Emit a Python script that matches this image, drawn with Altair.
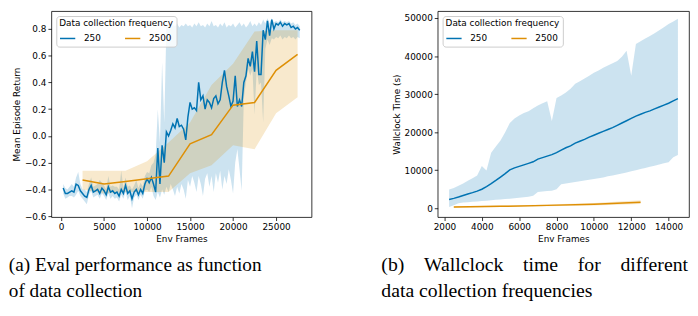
import altair as alt
import pandas as pd

BLUE = "#0173B2"
ORANGE = "#DE8F05"
FREQS = ["250", "2500"]

# ---------------- (a) eval performance ----------------
l250_x = list(range(250, 27751, 250))
l250_mean = [
    -0.39, -0.43, -0.43, -0.42, -0.41, -0.42, -0.36, -0.37, -0.41, -0.43,
    -0.45, -0.46, -0.40, -0.37, -0.42, -0.41, -0.40, -0.43, -0.39, -0.41,
    -0.44, -0.38, -0.42, -0.41, -0.43, -0.42, -0.45, -0.40, -0.43, -0.37,
    -0.43, -0.41, -0.47, -0.42, -0.40, -0.44, -0.40, -0.43, -0.36,
    -0.32, -0.35, -0.31, -0.36, -0.42, -0.09, -0.36, -0.07, -0.20, 0.03,
    0.00, 0.04, 0.09, 0.06, 0.13, 0.07, 0.08, 0.05, -0.03, 0.14,
    0.25, 0.20, 0.21, 0.19, 0.40, 0.27, 0.30, 0.20, 0.27, 0.25,
    0.21, 0.28, 0.30, 0.24, 0.27, 0.40,
    0.49, 0.37, 0.30, 0.22, 0.26, 0.45, 0.22, 0.27, 0.22, 0.40,
    0.45, 0.58, 0.52, 0.63, 0.48, 0.71, 0.46, 0.46, 0.79, 0.72,
    0.86, 0.75, 0.87, 0.80, 0.84, 0.83, 0.85, 0.82, 0.84, 0.83,
    0.84, 0.81, 0.82, 0.80, 0.81, 0.79,
]
l250_hi = [
    -0.36, -0.39, -0.40, -0.38, -0.36, -0.38, -0.31, -0.27, -0.36, -0.40,
    -0.40, -0.42, -0.36, -0.31, -0.38, -0.37, -0.36, -0.33, -0.35, -0.37,
    -0.40, -0.30, -0.38, -0.37, -0.38, -0.38, -0.40, -0.26, -0.39, -0.31,
    -0.38, -0.37, -0.40, -0.37, -0.33, -0.39, -0.35, -0.38, -0.30,
    -0.27, -0.28, -0.22, -0.20, -0.14, 0.20, -0.05, 0.55, 0.10, 0.82,
    0.84, 0.81, 0.83, 0.82, 0.84, 0.81, 0.83, 0.82, 0.84, 0.82,
    0.83, 0.81, 0.84, 0.82, 0.85, 0.82, 0.83, 0.81, 0.84, 0.82,
    0.86, 0.82, 0.83, 0.81, 0.84, 0.82,
    0.85, 0.81, 0.83, 0.82, 0.84, 0.81, 0.83, 0.85, 0.82, 0.84,
    0.81, 0.83, 0.86, 0.82, 0.84, 0.82, 0.85, 0.83, 0.87, 0.84,
    0.88, 0.84, 0.88, 0.85, 0.86, 0.85, 0.87, 0.85, 0.86, 0.85,
    0.86, 0.84, 0.85, 0.83, 0.84, 0.82,
]
l250_lo = [
    -0.43, -0.47, -0.46, -0.45, -0.45, -0.46, -0.44, -0.41, -0.45, -0.47,
    -0.49, -0.51, -0.44, -0.41, -0.46, -0.45, -0.44, -0.47, -0.43, -0.45,
    -0.48, -0.43, -0.47, -0.45, -0.47, -0.46, -0.49, -0.44, -0.47, -0.42,
    -0.48, -0.45, -0.54, -0.46, -0.44, -0.48, -0.44, -0.47, -0.41,
    -0.40, -0.42, -0.38, -0.45, -0.48, -0.42, -0.46, -0.40, -0.44, -0.38,
    -0.42, -0.36, -0.40, -0.45, -0.38, -0.43, -0.36, -0.40, -0.47, -0.33,
    -0.38, -0.30, -0.35, -0.42, -0.30, -0.36, -0.45, -0.32, -0.28, -0.38,
    -0.30, -0.42, -0.28, -0.35, -0.26, -0.40,
    -0.30, -0.36, -0.25, -0.33, -0.43, -0.20, -0.10, -0.25, -0.41, 0.28,
    0.40, 0.50, 0.45, 0.50, 0.16, 0.50, 0.38, 0.40, 0.10, 0.65,
    0.72, 0.68, 0.73, 0.72, 0.74, 0.73, 0.75, 0.72, 0.74, 0.73,
    0.75, 0.73, 0.74, 0.72, 0.74, 0.73,
]
l2500_x = [2500, 5000, 7500, 10000, 12500, 15000, 17500, 20000, 22500, 25000, 27500]
l2500_mean = [-0.33, -0.36, -0.34, -0.32, -0.30, -0.06, 0.01, 0.23, 0.25, 0.49, 0.61]
l2500_lo = [-0.40, -0.43, -0.42, -0.42, -0.42, -0.28, -0.22, -0.07, -0.10, 0.17, 0.29]
l2500_hi = [-0.26, -0.26, -0.26, -0.19, -0.05, 0.10, 0.38, 0.54, 0.78, 0.79, 0.79]

# ---------------- (b) wallclock time ----------------
r250_x = list(range(2250, 14501, 250))
r250_mean = [
    2300, 2600, 2950, 3350, 3750, 4100, 4500, 5000, 5700, 6450,
    7300, 8200, 9100, 10100, 10600, 11000, 11400, 11800, 12200, 12900,
    13300, 13700, 14100, 14600, 15300, 15900, 16400, 17100, 17600, 18100,
    18700, 19200, 19700, 20200, 20700, 21200, 21800, 22400, 23000, 23600,
    24200, 24700, 25200, 25600, 26100, 26600, 27100, 27600, 28200, 28800,
]
r250_hi = [
    4900, 5300, 5900, 6500, 7200, 7900, 8600, 11100, 9900, 14600,
    16200, 17800, 20000, 22400, 23600, 24400, 25000, 25500, 26300, 27000,
    27600, 28100, 22900, 29000, 29600, 30400, 31400, 32700, 33400, 34100,
    34800, 35600, 36200, 36900, 37500, 38100, 38700, 39800, 41400, 34800,
    43200, 43900, 44600, 45300, 46000, 46800, 47600, 48400, 49100, 49800,
]
r250_lo = [
    300, 800, 1300, 1500, 1600, 1700, 1800, 1900, 2000, 2100,
    2200, 2300, 2400, 2500, 2600, 2750, 2900, 3000, 3300, 4300,
    4400, 4500, 4600, 5000, 6300, 6500, 6700, 6900, 7100, 7300,
    7500, 7700, 7900, 8100, 8400, 8600, 8900, 9100, 9400, 9700,
    10000, 10300, 10600, 10900, 11200, 11500, 11800, 12100, 13400, 14000,
]
r2500_x = [2500, 5000, 7500, 10000, 12500]
r2500_mean = [300, 500, 750, 1050, 1550]
r2500_lo = [150, 300, 500, 700, 1100]
r2500_hi = [450, 700, 1000, 1400, 2100]

left_ticks_x = [0, 5000, 10000, 15000, 20000, 25000]
left_ticks_y = [-0.6, -0.4, -0.2, 0.0, 0.2, 0.4, 0.6, 0.8]
right_ticks_x = [2000, 4000, 6000, 8000, 10000, 12000, 14000]
right_ticks_y = [0, 10000, 20000, 30000, 40000, 50000]

# captions (justified first line of (b) emulated with wide spaces)
SP = "\u2003"
caption_a = "(a) Eval performance as function\nof data collection"
caption_b = "(b)" + SP + "Wallclock" + SP + "time" + SP + "for" + SP + "different\ndata collection frequencies"


def frame(xs, means, los, his, freq):
    return pd.DataFrame({"x": xs, "mean": means, "lo": los, "hi": his, "freq": freq})


df_left = pd.concat([frame(l250_x, l250_mean, l250_lo, l250_hi, FREQS[0]),
                     frame(l2500_x, l2500_mean, l2500_lo, l2500_hi, FREQS[1])])
df_right = pd.concat([frame(r250_x, r250_mean, r250_lo, r250_hi, FREQS[0]),
                      frame(r2500_x, r2500_mean, r2500_lo, r2500_hi, FREQS[1])])

FONT = "DejaVu Sans"
H = 209


def panel(df, xdom, ydom, xticks, yticks, yfmt, ytitle, width, caption, cap_dx, cap_size):
    cscale = alt.Scale(domain=FREQS, range=[BLUE, ORANGE])
    x = alt.X("x:Q", scale=alt.Scale(domain=xdom, nice=False, zero=False),
              axis=alt.Axis(values=xticks, format="d", title="Env Frames"))
    yax = alt.Axis(values=yticks, format=yfmt, title=ytitle)
    ysc = alt.Scale(domain=ydom, nice=False, zero=False)
    bands = []
    for f, col in zip(FREQS, [BLUE, ORANGE]):
        bands.append(
            alt.Chart(df).transform_filter(alt.datum.freq == f).mark_area(
                opacity=0.2, color=col
            ).encode(x=x, y=alt.Y("lo:Q", scale=ysc, axis=yax), y2="hi:Q")
        )
    line = alt.Chart(df).mark_line(strokeWidth=1.5).encode(
        x=x,
        y=alt.Y("mean:Q", scale=ysc, axis=yax),
        color=alt.Color("freq:N", scale=cscale, legend=alt.Legend(
            title="Data collection frequency", orient="top-left", direction="horizontal",
            columns=2, symbolType="stroke", symbolSize=240, symbolStrokeWidth=1.5,
            labelFontSize=9, titleFontSize=9, titleFontWeight="normal",
            labelFont=FONT, titleFont=FONT, labelColor="black", titleColor="black",
            fillColor="rgba(255,255,255,0.8)", strokeColor="#cccccc", cornerRadius=3,
            padding=3, offset=5, columnPadding=20, labelOffset=8, titlePadding=2)),
    )
    cap = alt.Chart(pd.DataFrame({"t": [caption]})).mark_text(
        align="left", baseline="alphabetic", font="Liberation Serif", fontSize=cap_size,
        lineBreak="\n", lineHeight=26, color="black",
    ).encode(text="t:N", x=alt.value(cap_dx), y=alt.value(H + 55))
    return alt.layer(*bands, line, cap).properties(width=width, height=H)


left = panel(df_left, [-1125, 29125], [-0.607, 0.933], left_ticks_x, left_ticks_y, ".1f",
             "Mean Episode Return", 264, caption_a, -43.2, 19.5)
right = panel(df_right, [1637.5, 15094], [-2330, 51810], right_ticks_x, right_ticks_y, "d",
              "Wallclock Time (s)", 255, caption_b, -57.2, 20)

chart = alt.hconcat(left, right, spacing=69).resolve_scale(
    color="independent"
).resolve_legend(color="independent").properties(padding=0).configure_view(
    stroke="black", strokeWidth=0.8
).configure_axis(
    labelFont=FONT, titleFont=FONT, labelFontSize=9, titleFontSize=9,
    titleFontWeight="normal", labelColor="black", titleColor="black",
    domain=False, tickColor="black", tickSize=3.5, tickWidth=0.8, grid=False,
    labelPadding=2, titlePadding=3,
)

chart.save("out.html", embed_options={"renderer": "svg", "actions": False})
